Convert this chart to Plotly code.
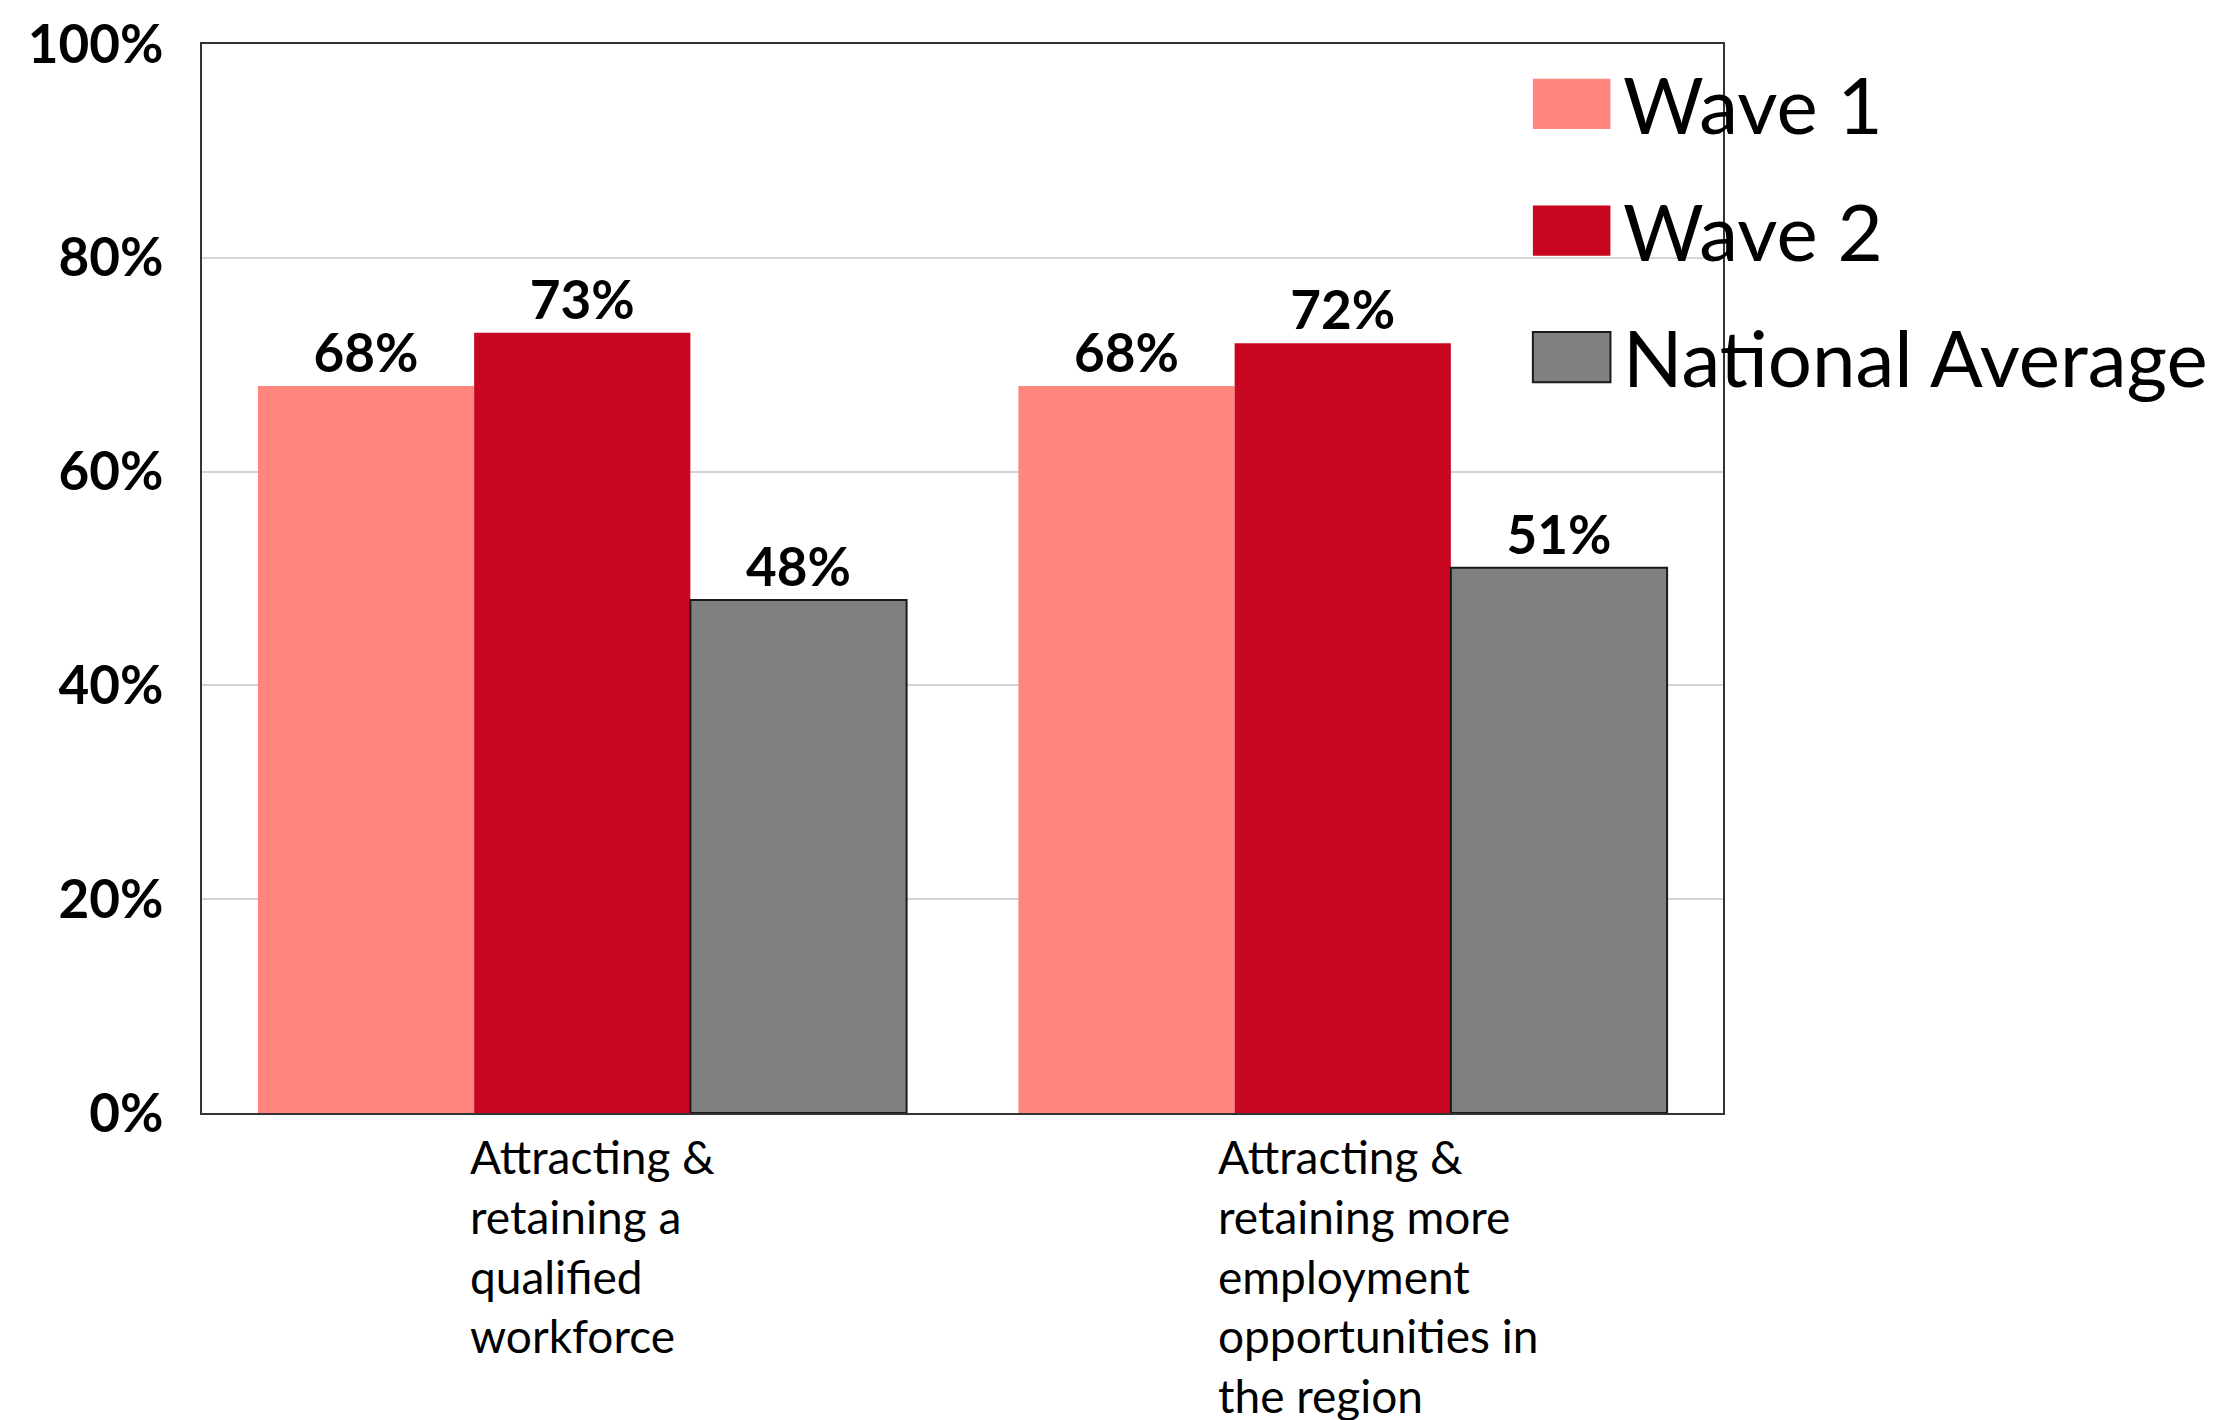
import plotly.graph_objects as go

# categories (x axis) and series values, in percent
categories = [
    "Attracting &<br>retaining a<br>qualified<br>workforce",
    "Attracting &<br>retaining more<br>employment<br>opportunities in<br>the region",
]
series_names = ["Wave 1", "Wave 2", "National Average"]
wave1 = [68, 68]
wave2 = [73, 72]
national_avg = [48, 51]
colors = ["#FF867F", "#C8061F", "#808080"]
outlines = ["#FF867F", "#C8061F", "#1a1a1a"]
y_ticks = [0, 20, 40, 60, 80, 100]
label_shifts = [-114, -127]  # px, left edge of each wrapped label vs category centre

FONT = "Lato"

fig = go.Figure()
for name, vals, col, oc in zip(series_names, [wave1, wave2, national_avg], colors, outlines):
    fig.add_trace(go.Bar(
        x=categories, y=vals, name=name,
        marker=dict(color=col, line=dict(color=oc, width=2 if oc != col else 0)),
        text=[f"{v}%" for v in vals],
        textposition="outside",
        textfont=dict(family=FONT, size=53, color="black", weight="bold"),
        cliponaxis=False,
        showlegend=False,
    ))

# category labels, left aligned under each group
for cat, xs in zip(categories, label_shifts):
    fig.add_annotation(
        x=cat, xref="x", y=0, yref="paper",
        text=cat, showarrow=False, align="left",
        xanchor="left", yanchor="top", xshift=xs, yshift=-14,
        font=dict(family=FONT, size=46, color="black"),
    )

# big legend drawn by hand (plotly legend swatches can't be scaled)
for i, (name, col, oc) in enumerate(zip(series_names, colors, outlines)):
    yc = 0.944 - i * 0.1185
    fig.add_shape(type="rect", xref="paper", yref="paper",
                  x0=0.875, x1=0.926, y0=yc - 0.0235, y1=yc + 0.0235,
                  fillcolor=col, line=dict(color=oc, width=2 if oc != col else 0))
    fig.add_annotation(x=0.933, y=yc, xref="paper", yref="paper", text=name,
                       showarrow=False, xanchor="left", yanchor="middle",
                       font=dict(family=FONT, size=78, color="black"))

fig.update_layout(
    width=2220, height=1420,
    margin=dict(l=194, r=505, t=36, b=315, autoexpand=False),
    paper_bgcolor="white", plot_bgcolor="white",
    barmode="group", bargap=0.147, bargroupgap=0,
    xaxis=dict(showticklabels=False, showline=True, mirror=True,
               linecolor="#333333", linewidth=2, ticks="", automargin=False),
    yaxis=dict(range=[0, 100], tickvals=y_ticks,
               ticktext=[f"{t}%" for t in y_ticks],
               tickfont=dict(family=FONT, size=53, color="black", weight="bold"),
               showgrid=True, gridcolor="#d4d4d4", gridwidth=2,
               showline=True, mirror=True, linecolor="#333333", linewidth=2,
               ticks="", ticklabelstandoff=26, zeroline=False,
               ticklabeloverflow="allow", automargin=False),
)

fig.write_html("out.html")
